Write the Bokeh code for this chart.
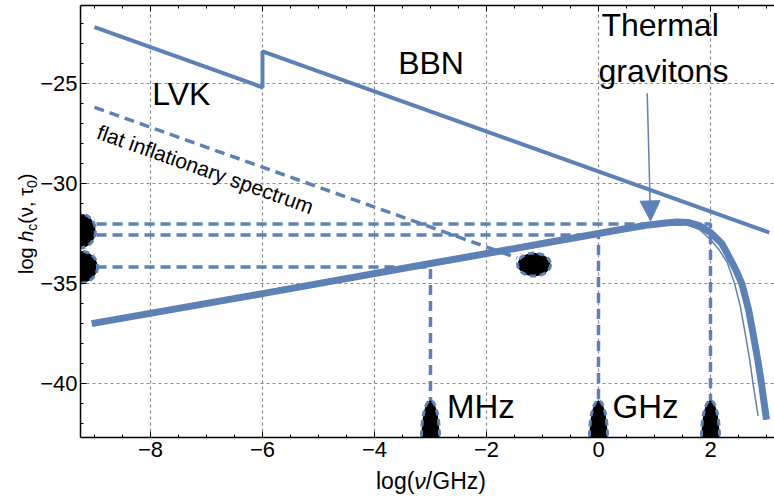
import math
from bokeh.plotting import figure
from bokeh.layouts import column, row
from bokeh.models import (Range1d, FixedTicker, LinearAxis, Grid, Label, Arrow, Div,
                          NormalHead, CustomJSTickFormatter, CustomLabelingPolicy)
from bokeh.embed import file_html
from bokeh.resources import INLINE

# ---------------- data ----------------
# LVK / BBN upper bound (jump at log nu = -6)
lvk_x = [-9.0, -6.0, -6.0, 3.05]
lvk_y = [-22.2, -25.2, -23.4, -32.45]

# flat inflationary spectrum (dashed)
infl_x = [-9.0, -1.45]
infl_y = [-26.2, -33.72]

# thermal gravitons (thick)
thermal_x = [-9.05, -6.0, -3.0, -1.0, 0.0, 0.5, 0.9, 1.2, 1.4, 1.6, 1.8, 2.0, 2.2, 2.3,
             2.45, 2.56, 2.68, 2.76, 2.85, 2.91, 3.0]
thermal_y = [-37.0, -35.5, -34.0, -33.0, -32.5, -32.25, -32.07, -31.97, -31.92, -31.95,
             -32.1, -32.45, -33.0, -33.5, -34.3, -35.0, -36.3, -37.5, -38.9, -40.0, -41.8]

# thermal gravitons (thin companion curve)
thin_x = [1.2, 1.5, 1.8, 2.0, 2.15, 2.3, 2.43, 2.53, 2.62, 2.7, 2.76, 2.85]
thin_y = [-31.97, -31.97, -32.3, -32.8, -33.3, -33.95, -35.0, -36.1, -37.5, -38.8, -40.0, -41.6]

# dashed guide levels and the frequencies where they drop to the axis
level_y = [-32.03, -32.58, -34.17]
level_x = [2.0, 0.0, -3.0]

# black markers
left_blob_y = [-32.37, -34.17]
bottom_blob_x = [-3.0, 0.0, 2.0]
point_x = [-1.15]
point_y = [-34.05]

# arrow for "Thermal gravitons"
arrow_x = [0.87, 0.93]
arrow_y = [-25.5, -31.87]

xticks = [-8, -6, -4, -2, 0, 2]
yticks = [-40, -35, -30, -25]

# ---------------- styling ----------------
BLUE = "#5E81B5"
FONT = "Liberation Sans"
X0, X1 = -9.25, 3.143
Y0, Y1 = -42.685, -21.115
YDIV_W = 37

p = figure(width=774 - YDIV_W, height=470, output_backend="svg", toolbar_location=None,
           x_range=Range1d(X0, X1), y_range=Range1d(Y0, Y1),
           x_axis_type=None, y_axis_type=None,
           min_border_left=80 - YDIV_W, min_border_right=0, min_border_top=5,
           min_border_bottom=33)
p.outline_line_color = None
p.background_fill_color = "white"
p.border_fill_color = "white"

xminor = [X0 + 0.25 + 0.5 * i for i in range(25)]
yminor = list(range(-42, -21))
fmt = CustomJSTickFormatter(code="return (tick < 0 ? '\u2212' : '') + Math.abs(tick).toString();")


def style_axis(ax, standoff):
    ax.axis_line_color = "black"
    ax.axis_line_width = 1.5
    ax.major_tick_line_color = "black"
    ax.minor_tick_line_color = "black"
    ax.major_tick_in = 6
    ax.major_tick_out = 0
    ax.minor_tick_in = 3
    ax.minor_tick_out = 0
    ax.major_label_text_font = FONT
    ax.major_label_text_color = "black"
    ax.major_label_text_font_size = "22px"
    ax.major_label_standoff = standoff


bottom = LinearAxis(ticker=FixedTicker(ticks=xticks, minor_ticks=xminor), formatter=fmt)
style_axis(bottom, 4)
p.add_layout(bottom, "below")

top = LinearAxis(ticker=FixedTicker(ticks=xticks, minor_ticks=xminor), formatter=fmt)
style_axis(top, 0)
top.major_label_text_font_size = "1px"
top.major_label_policy = CustomLabelingPolicy(code="return new Set()")
p.add_layout(top, "above")

left = LinearAxis(ticker=FixedTicker(ticks=yticks, minor_ticks=yminor), formatter=fmt)
style_axis(left, 3)
p.add_layout(left, "left")

for dim, tk in ((0, xticks), (1, yticks)):
    g = Grid(dimension=dim, ticker=FixedTicker(ticks=tk))
    g.grid_line_color = "#8a8a8a"
    g.grid_line_dash = "3 3"
    g.grid_line_width = 1.2
    p.add_layout(g)

# dashed guide paths
for ly, lx in zip(level_y, level_x):
    p.line([X0, lx, lx], [ly, ly, Y0], line_color=BLUE, line_width=3.5, line_dash="10 6")

p.line(infl_x, infl_y, line_color=BLUE, line_width=3.5, line_dash="10 6")

# black blobs with dashed blue outline
blob_kw = dict(fill_color="black", line_color=BLUE, line_width=3, line_dash="6 4",
               width_units="screen", height_units="screen")
p.ellipse(x=[X0, X0], y=left_blob_y, width=[30, 34], height=[34, 32], **blob_kw)
p.ellipse(x=bottom_blob_x, y=[Y0] * 3, width=18, height=74, **blob_kw)
p.ellipse(x=point_x, y=point_y, width=33, height=23, **blob_kw)

# curves
p.line(lvk_x, lvk_y, line_color=BLUE, line_width=4)
p.line(thin_x, thin_y, line_color=BLUE, line_width=1.5)
p.line(thermal_x, thermal_y, line_color=BLUE, line_width=7, line_join="round")

p.add_layout(Arrow(end=NormalHead(size=20, fill_color=BLUE, line_color=BLUE, line_width=1),
                   x_start=arrow_x[0], y_start=arrow_y[0], x_end=arrow_x[1], y_end=arrow_y[1],
                   line_color=BLUE, line_width=1.5))


def lab(x, y, text, size, align="center", style="normal", angle=0.0):
    p.add_layout(Label(x=x, y=y, text=text, text_font=FONT, text_font_size=f"{size}px",
                       text_color="black", text_align=align, text_baseline="alphabetic",
                       text_font_style=style, angle=angle))


lab(-7.45, -25.52, "LVK", 32)
lab(-2.99, -23.97, "BBN", 32)
lab(1.10, -22.07, "Thermal", 32)
lab(1.16, -24.37, "gravitons", 32)
lab(-2.10, -41.14, "MHz", 33)
lab(0.84, -41.14, "GHz", 33)
lab(-7.02, -29.29, "flat inflationary spectrum", 21, angle=-math.radians(19.5))

# ---------------- axis labels as HTML (italic / subscripts) ----------------
SUB = "font-size:14px;vertical-align:-4px;line-height:0;"
ylab_html = (
    f'<div style="position:relative;width:{YDIV_W}px;height:470px;">'
    '<div style="position:absolute;left:16px;top:274px;transform:rotate(-90deg);'
    "transform-origin:0 0;white-space:nowrap;font-family:'Liberation Sans';"
    'font-size:20px;line-height:1;color:black;">'
    f'log <i>h</i><span style="{SUB}">c</span>(ν, τ<span style="{SUB}">0</span>)'
    '</div></div>'
)
xlab_html = (
    '<div style="position:relative;width:774px;height:28px;">'
    '<div style="position:absolute;left:376px;top:0px;white-space:nowrap;'
    "font-family:'Liberation Sans';font-size:23px;line-height:1;color:black;\">"
    'log(<i>ν</i>/GHz)</div></div>'
)
ydiv = Div(text=ylab_html, width=YDIV_W, height=470, margin=0)
xdiv = Div(text=xlab_html, width=774, height=28, margin=0)

layout = column(row(ydiv, p, spacing=0), xdiv, spacing=0)

open("out.html", "w").write(file_html(layout, INLINE))
